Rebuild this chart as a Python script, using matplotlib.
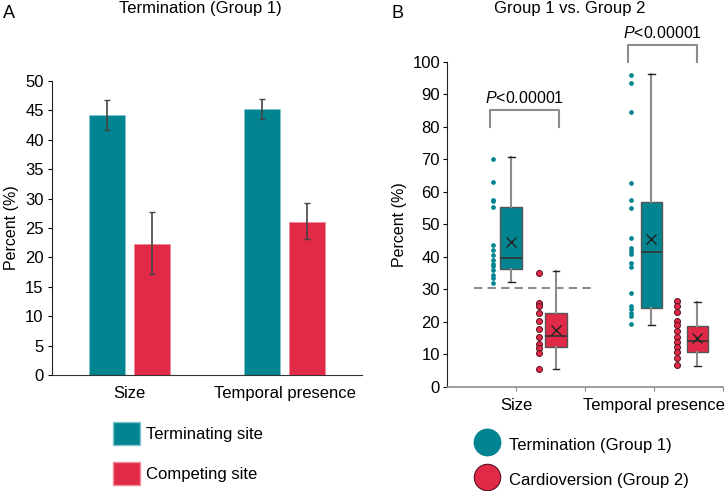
import numpy as np
import matplotlib
matplotlib.use("Agg")
import matplotlib.pyplot as plt
from matplotlib.patches import Patch
from matplotlib.lines import Line2D

plt.rcParams["font.family"] = ["Liberation Sans", "DejaVu Sans"]
plt.rcParams["mathtext.fontset"] = "custom"
plt.rcParams["mathtext.it"] = "Liberation Sans:italic"
plt.rcParams["mathtext.rm"] = "Liberation Sans"

TEAL = "#028591"
RED = "#E02A47"

# ---- Panel A data ----
categories = ["Size", "Temporal presence"]
terminating = [44.2, 45.2]
terminating_lo = [41.7, 43.6]
terminating_hi = [46.8, 46.9]
competing = [22.3, 26.1]
competing_lo = [17.1, 23.1]
competing_hi = [27.7, 29.2]

# ---- Panel B data (raw points) ----
g1_size = [70.1, 62.9, 57.6, 57.0, 55.2, 43.6, 42.1, 40.4, 39.0, 37.9,
           37.2, 35.9, 34.3, 33.4, 32.0]
g2_size = [35.1, 25.7, 24.9, 22.8, 20.2, 17.7, 15.2, 13.0, 11.8, 10.3, 5.3]
g1_temporal = [95.9, 93.5, 84.4, 62.8, 57.4, 54.9, 45.8, 42.6, 41.9, 40.8,
               38.0, 36.8, 28.7, 24.8, 23.8, 22.8, 21.8, 19.3]
g2_temporal = [26.4, 24.8, 23.1, 20.2, 19.0, 17.1, 15.2, 13.7, 12.3, 10.8,
               8.7, 6.7]

# box summaries: (q1, median, q3, whisker lo, whisker hi, mean)
box_g1_size = (36.1, 39.7, 55.2, 32.1, 70.6, 44.6)
box_g2_size = (12.3, 15.7, 22.6, 5.5, 35.7, 17.4)
box_g1_temporal = (24.3, 41.4, 56.7, 19.0, 96.1, 45.4)
box_g2_temporal = (10.6, 14.2, 18.8, 6.4, 26.1, 15.0)

threshold = 30.3
p_text = r"$\mathit{P}$<0.00001"

fig = plt.figure(figsize=(7.25, 4.91), dpi=100)

# ---------------- Panel A ----------------
axA = fig.add_axes([52 / 725, 1 - 375 / 491, 310 / 725, 294 / 491])
x = np.arange(len(categories))
w = 0.23
off = 0.145
t = np.array(terminating)
c = np.array(competing)
axA.bar(x - off, t, w, color=TEAL, edgecolor="#7fc6cc", linewidth=0.6)
axA.bar(x + off, c, w, color=RED, edgecolor="#f08a9a", linewidth=0.6)
axA.errorbar(x - off, t, yerr=[t - np.array(terminating_lo), np.array(terminating_hi) - t],
             fmt="none", ecolor="#444444", elinewidth=1.2, capsize=2.5, capthick=1.0)
axA.errorbar(x + off, c, yerr=[c - np.array(competing_lo), np.array(competing_hi) - c],
             fmt="none", ecolor="#444444", elinewidth=1.2, capsize=2.5, capthick=1.0)
axA.set_xlim(-0.5, 1.5)
axA.set_ylim(0, 50)
axA.set_yticks(np.arange(0, 51, 5))
axA.set_xticks(x)
axA.set_xticklabels(categories)
axA.tick_params(axis="x", length=0, pad=8, labelsize=12)
axA.tick_params(axis="y", length=3, labelsize=12, pad=3)
for s in ["top", "right"]:
    axA.spines[s].set_visible(False)
axA.spines["left"].set_color("#222222")
axA.spines["bottom"].set_color("#333333")
axA.set_ylabel("Percent (%)", fontsize=11.5, labelpad=4)

leg_a = fig.legend(handles=[Patch(facecolor=TEAL, edgecolor="#7fc6cc"),
                            Patch(facecolor=RED, edgecolor="#f08a9a")],
                   labels=["Terminating site", "Competing site"],
                   loc="upper left", bbox_to_anchor=(113 / 725, 1 - 422 / 491),
                   frameon=False, borderpad=0, borderaxespad=0,
                   handlelength=1.6, handleheight=1.7, handletextpad=0.4,
                   labelspacing=1.05, fontsize=12)

# ---------------- Panel B ----------------
axB = fig.add_axes([447 / 725, 1 - 386.7 / 491, 276 / 725, 325 / 491])

box_pos = [0.93, 1.58, 2.96, 3.63]
dot_pos = [0.67, 1.34, 2.67, 3.33]
boxes = [box_g1_size, box_g2_size, box_g1_temporal, box_g2_temporal]
colors = [TEAL, RED, TEAL, RED]
points = [g1_size, g2_size, g1_temporal, g2_temporal]

stats = []
for q1, med, q3, lo, hi, mean in boxes:
    stats.append(dict(q1=q1, med=med, q3=q3, whislo=lo, whishi=hi, mean=mean, fliers=[]))
bp = axB.bxp(stats, positions=box_pos, widths=0.31, patch_artist=True,
             showmeans=True, showfliers=False,
             boxprops=dict(edgecolor="#555555", linewidth=1.0),
             medianprops=dict(color="#333333", linewidth=1.2),
             whiskerprops=dict(color="#8c8c8c", linewidth=1.5),
             capprops=dict(color="#222222", linewidth=1.0),
             meanprops=dict(marker="x", markeredgecolor="#222222",
                            markersize=7, markeredgewidth=1.0))
for patch, col in zip(bp["boxes"], colors):
    patch.set_facecolor(col)
for cap in bp["caps"]:
    xd = cap.get_xdata()
    m = np.mean(xd)
    cap.set_xdata([m - 0.05, m + 0.05])

for pos, vals, col in zip(dot_pos, points, colors):
    if col == TEAL:
        axB.plot([pos] * len(vals), vals, "o", color=TEAL, markersize=3.4,
                 markeredgewidth=0, zorder=3)
    else:
        axB.plot([pos] * len(vals), vals, "o", color=RED, markersize=4.3,
                 markeredgecolor="#5a1020", markeredgewidth=0.7, zorder=3)

axB.plot([0.39, 2.08], [threshold, threshold], color="#8c8c8c",
         linestyle=(0, (4, 2.5)), linewidth=1.5, zorder=1)

# significance brackets
axB.plot([0.63, 0.63, 1.63, 1.63], [80, 85, 85, 80], color="#8c8c8c",
         linewidth=1.5, clip_on=False)
axB.text(1.13, 86.3, p_text, ha="center", va="bottom", fontsize=11.5)
axB.plot([2.63, 2.63, 3.62, 3.62], [100, 105, 105, 100], color="#8c8c8c",
         linewidth=1.5, clip_on=False)
axB.text(3.12, 106.3, p_text, ha="center", va="bottom", fontsize=11.5,
         clip_on=False)

axB.set_xlim(0, 4)
axB.set_ylim(0, 100)
axB.set_yticks(np.arange(0, 101, 10))
axB.set_xticks([1, 2, 3, 4])
axB.set_xticklabels(["Size", "", "Temporal presence", ""])
axB.tick_params(axis="x", length=3, color="#8c8c8c", pad=5, labelsize=12)
axB.tick_params(axis="y", length=3, labelsize=12, pad=2)
for s in ["top", "right"]:
    axB.spines[s].set_visible(False)
axB.spines["left"].set_color("#222222")
axB.spines["bottom"].set_color("#8c8c8c")
axB.spines["bottom"].set_linewidth(1.2)
axB.set_ylabel("Percent (%)", fontsize=11.5, labelpad=4)

leg_b = fig.legend(handles=[Line2D([], [], marker="o", linestyle="none", markersize=19,
                                   markerfacecolor=TEAL, markeredgecolor=TEAL),
                            Line2D([], [], marker="o", linestyle="none", markersize=19,
                                   markerfacecolor=RED, markeredgecolor="#5a1020",
                                   markeredgewidth=0.8)],
                   labels=["Termination (Group 1)", "Cardioversion (Group 2)"],
                   loc="upper left", bbox_to_anchor=(474 / 725, 1 - 434 / 491),
                   frameon=False, borderpad=0, borderaxespad=0,
                   handlelength=1.6, handleheight=1.5, handletextpad=0.5,
                   labelspacing=0.87, fontsize=12)

# titles and panel letters
fig.text(200 / 725, 1 - 9 / 491, "Termination (Group 1)", ha="center", va="center",
         fontsize=12)
fig.text(570 / 725, 1 - 9 / 491, "Group 1 vs. Group 2", ha="center", va="center",
         fontsize=12)
fig.text(3 / 725, 1 - 14 / 491, "A", ha="left", va="center", fontsize=13)
fig.text(392 / 725, 1 - 14 / 491, "B", ha="left", va="center", fontsize=13)

fig.savefig("out.png", dpi=100)
